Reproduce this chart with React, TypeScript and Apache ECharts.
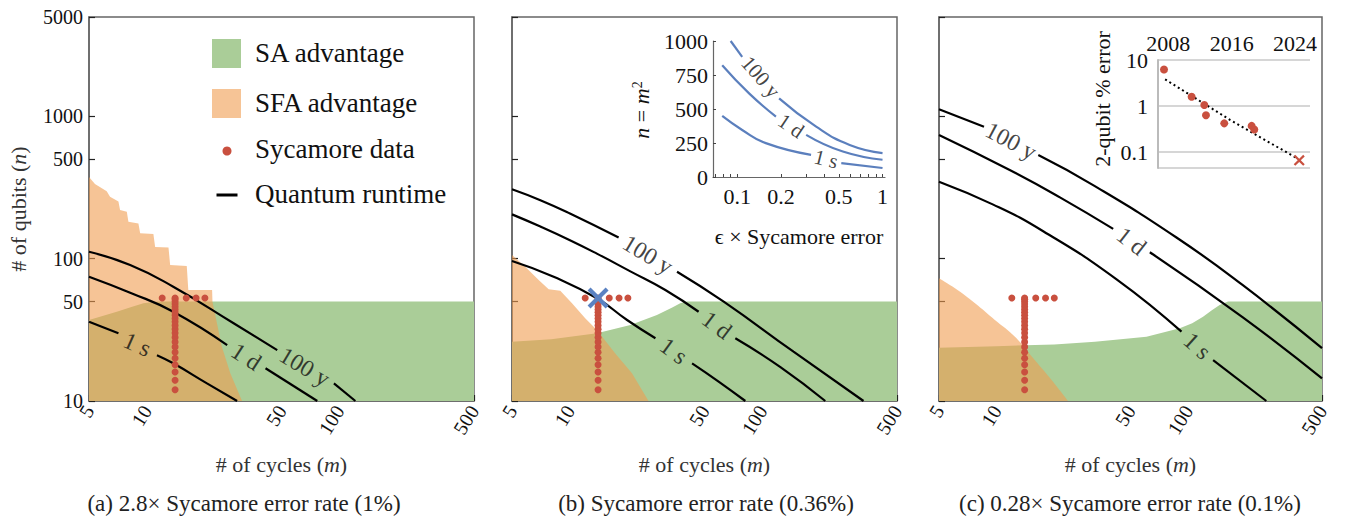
import React, { useEffect, useRef } from 'react';
import * as echarts from 'echarts';

// ---------- axis ticks ----------
const cycleTicks = [5, 10, 50, 100, 500];
const qubitTicks = [10, 50, 100, 500, 1000, 5000];
const errorFactorTicks = [0.1, 0.2, 0.5, 1];
const errorFactorMinorTicks = [0.07, 0.08, 0.09, 0.1, 0.2, 0.3, 0.4, 0.5, 0.6, 0.7, 0.8, 0.9, 1];
const yearTicks = [2008, 2016, 2024];
const percentTicks = [0.1, 1, 10];

// ---------- region boundaries [cycles, qubits] ----------
const saA = [[5, 37.1], [6.97, 42.4], [8.3, 45.8], [9.59, 48.6], [11.3, 50], [500, 50]];
const sfaA = [[5, 375], [5.37, 335], [6.18, 298], [6.43, 273], [7.11, 252], [7.25, 220], [7.86, 214], [8.01, 182],
  [9.03, 177], [9.22, 151], [10.8, 149], [11.03, 121], [12.94, 120], [13.2, 90.3], [16.1, 88.9], [16.4, 60.3],
  [21.8, 60.3], [21.9, 49.9], [23.1, 35.2], [24.5, 24.1], [27.1, 15.7], [31.2, 10]];
const saB = [[5, 26.1], [8, 27.2], [13.8, 29.9], [20.6, 34.2], [28.3, 40.2], [34, 45.5], [37.4, 48.6], [40.6, 50], [500, 50]];
const sfaB = [[5, 106], [5.86, 87.9], [6.88, 70.9], [7.75, 60.9], [8.91, 59.6], [10.25, 48.6], [12.0, 38.1],
  [13.8, 31.6], [17.2, 21.6], [21.0, 15.7], [25.6, 10]];
const saC = [[5, 23.7], [10, 24.3], [20, 25], [32.6, 26.1], [60.6, 28.3], [90.4, 32.4], [105, 35.2], [119.6, 39.1],
  [133, 43.5], [146, 47.3], [161.5, 50], [500, 50]];
const sfaC = [[5, 72.8], [6.06, 61.9], [7.71, 48.6], [9.79, 37.1], [12.46, 28.3], [15.8, 19.4], [19.4, 14.0], [23.6, 10]];

// ---------- quantum runtime contours (two pieces around each inline label) ----------
const contoursA = [
  { text: '1 s', pieces: [[[5, 36.1], [7.11, 29.9]], [[11.27, 21.0], [13.7, 18.4], [20.5, 13.3], [29.4, 10]]], at: [8.9, 25.0], angle: -24 },
  { text: '1 d', pieces: [[[5, 74.8], [8.18, 57.7], [13.7, 42.4], [26.1, 24.7]], [[41.3, 17.0], [76.7, 10]]], at: [32.8, 20.5], angle: -33 },
  { text: '100 y', pieces: [[[5, 112], [8.18, 90.3], [13.7, 63.6], [28.2, 35.2], [47.5, 22.8]], [[93.6, 13.3], [121, 10]]], at: [66, 17.4], angle: -31 },
];
const contoursB = [
  { text: '1 s', pieces: [[[5, 96.4], [8.23, 74.7], [13.8, 52.7], [19.8, 37.1], [27.8, 27.6]], [[43.1, 18.4], [59.2, 13.7], [81.5, 10]]], at: [34.6, 22.5], angle: -36 },
  { text: '1 d', pieces: [[[5, 205], [7.02, 168.4], [10, 135], [13.8, 108.6], [20.6, 81.5], [31.3, 60.3], [46.6, 42.4]], [[72.3, 27.6], [124, 17.3], [212, 10]]], at: [58.0, 34.2], angle: -37 },
  { text: '100 y', pieces: [[[5, 308], [7.02, 258], [10, 208], [17.9, 141]], [[36, 81], [62.9, 49.9], [145, 22.2], [335, 10]]], at: [25.4, 107], angle: -31 },
];
const contoursC = [
  { text: '1 s', pieces: [[[5, 348], [9.6, 240], [17.5, 156], [42.3, 71.7], [92.3, 30.7]], [[135, 19.4], [256, 10]]], at: [111.6, 24.4], angle: -42 },
  { text: '1 d', pieces: [[[5, 740], [11.7, 420], [21.4, 270], [40.6, 162]], [[63.1, 111], [193, 38.7], [500, 14.4]]], at: [50.6, 133], angle: -38 },
  { text: '100 y', pieces: [[[5, 1122], [8.59, 847]], [[16.5, 535], [31.9, 329], [86.9, 141], [193, 65.1], [500, 23.5]]], at: [11.9, 673], angle: -28 },
];

// ---------- Sycamore data ----------
const sycamoreColumnCycles = 14;
const sycamoreColumnQubits = [12, 14, 16, 18, 20, 22, 24, 26, 28, 30, 32, 34, 36, 38, 40, 42, 44, 46, 48, 50, 52, 53];
const sycamoreRowCycles = [12, 16, 18, 20];
const sycamoreRowQubits = 53;
const sycamoreExperiment = [14, 53];

// ---------- inset (b): n = m^2 vs error factor ----------
const insetContours = [
  { text: '100 y', pieces: [[[0.09, 1000], [0.108, 883]], [[0.194, 578], [0.349, 370], [0.594, 236], [1, 176]]], at: [0.145, 736], angle: -49 },
  { text: '1 d', pieces: [[[0.0787, 822], [0.1205, 615], [0.1845, 444]], [[0.298, 310], [0.533, 187], [1, 127]]], at: [0.234, 376], angle: -34 },
  { text: '1 s', pieces: [[[0.0787, 449], [0.108, 346], [0.157, 249], [0.322, 163]], [[0.52, 102], [1, 66]]], at: [0.409, 132], angle: -14 },
];

// ---------- inset (c): 2-qubit error over years ----------
const errorYears = [2007.46, 2010.95, 2012.55, 2012.76, 2015.07, 2018.53, 2018.86];
const errorPercent = [6.2, 1.59, 1.05, 0.63, 0.42, 0.37, 0.31];
const projectedError = [2024.54, 0.066];
const errorTrend = [[2007.6, 3.8], [2015.8, 0.5], [2024.2, 0.074]];

const FONT = "'Liberation Serif', 'DejaVu Serif', serif";
const GREEN = '#aacd98';
const ORANGE = '#f09d50';
const ORANGE_OPACITY = 0.6;
const RED = '#c9503f';
const BLUE = '#5b7fbd';
const FRAME = '#666';
const CROSS = 'path://M1.4,0L5,3.6L8.6,0L10,1.4L6.4,5L10,8.6L8.6,10L5,6.4L1.4,10L0,8.6L3.6,5L0,1.4Z';
const plain = (v: number) => String(v);

const mainGrids = [
  { left: 89, top: 17, width: 385, height: 384 },
  { left: 512, top: 17, width: 385, height: 384 },
  { left: 939, top: 17, width: 383, height: 384 },
];

const panels = [
  { sa: saA, sfa: sfaA, sfaSmooth: false, contours: contoursA },
  { sa: saB, sfa: sfaB, sfaSmooth: false, contours: contoursB },
  { sa: saC, sfa: sfaC, sfaSmooth: 0.4, contours: contoursC },
];

function buildOption() {
  const grid: any[] = mainGrids.map((g) => ({ ...g, show: true, borderColor: FRAME, borderWidth: 1.5 }));
  grid.push({ left: 713, top: 41, width: 172, height: 136 });
  grid.push({ left: 1158, top: 60, width: 152, height: 108 });

  const xAxis: any[] = mainGrids.map((_, i) => ({
    gridIndex: i, type: 'log', min: 5, max: 500,
    axisLine: { show: true, lineStyle: { color: FRAME, width: 1.5 } },
    axisTick: { show: true, inside: true, length: 6, customValues: cycleTicks, lineStyle: { color: '#222', width: 1.2 } },
    axisLabel: { customValues: cycleTicks, rotate: 58, margin: 6, fontFamily: FONT, fontSize: 20, color: '#111', formatter: plain },
    splitLine: { show: false },
    name: '# of cycles ({i|m})', nameLocation: 'middle', nameGap: 52,
    nameTextStyle: { fontFamily: FONT, fontSize: 22, color: '#333', rich: { i: { fontFamily: FONT, fontSize: 22, fontStyle: 'italic', color: '#333' } } },
  }));
  xAxis.push({
    gridIndex: 3, type: 'log', min: 0.068, max: 1.04,
    axisLine: { show: true, lineStyle: { color: FRAME, width: 1.2 } },
    axisTick: { show: true, inside: true, length: 3, customValues: errorFactorMinorTicks, lineStyle: { color: '#444' } },
    axisLabel: { customValues: errorFactorTicks, margin: 8, fontFamily: FONT, fontSize: 22, color: '#111', formatter: plain },
    splitLine: { show: false },
    name: 'ϵ × Sycamore error', nameLocation: 'middle', nameGap: 48,
    nameTextStyle: { fontFamily: FONT, fontSize: 22, color: '#111' },
  });
  xAxis.push({
    gridIndex: 4, type: 'value', position: 'top', min: 2006.7, max: 2025.9,
    axisLine: { show: false }, axisTick: { show: false },
    axisLabel: { customValues: yearTicks, margin: 6, fontFamily: FONT, fontSize: 22, color: '#111', formatter: plain },
    splitLine: { show: false },
  });

  const yAxis: any[] = mainGrids.map((_, i) => ({
    gridIndex: i, type: 'log', min: 10, max: 5000,
    axisLine: { show: true, lineStyle: { color: FRAME, width: 1.5 } },
    axisTick: { show: true, inside: true, length: 6, customValues: qubitTicks, lineStyle: { color: '#222', width: 1.2 } },
    axisLabel: { show: i === 0, customValues: qubitTicks, margin: 6, fontFamily: FONT, fontSize: 20, color: '#111', formatter: plain },
    splitLine: { show: false },
  }));
  yAxis.push({
    gridIndex: 3, type: 'value', min: 0, max: 1000, interval: 250,
    axisLine: { show: true, lineStyle: { color: FRAME, width: 1.2 } },
    axisTick: { show: true, inside: true, length: 3, lineStyle: { color: '#444' } },
    axisLabel: { margin: 5, fontFamily: FONT, fontSize: 22, color: '#111', formatter: plain },
    splitLine: { show: false },
  });
  yAxis.push({
    gridIndex: 4, type: 'log', min: 0.045, max: 10,
    axisLine: { show: true, lineStyle: { color: '#bbb', width: 2 } },
    axisTick: { show: false },
    axisLabel: { customValues: percentTicks, margin: 10, fontFamily: FONT, fontSize: 22, color: '#111', formatter: plain },
    splitLine: { show: true, lineStyle: { color: '#c8c8c8', width: 1.5 } },
  });

  const series: any[] = [];
  const lineSeries = (data: number[][], gi: number, color: string, width: number, z: number, extra: any = {}) => ({
    type: 'line', xAxisIndex: gi, yAxisIndex: gi, data, symbol: 'none', smooth: 0.5, silent: true,
    lineStyle: { color, width }, z, ...extra,
  });
  const labelSeries = (items: any[], gi: number, size: number, color: string) => ({
    type: 'scatter', xAxisIndex: gi, yAxisIndex: gi, symbolSize: 1, silent: true, z: 6,
    itemStyle: { color: 'rgba(0,0,0,0)' },
    data: items.map((c) => ({
      value: c.at,
      label: { show: true, position: 'inside', formatter: c.text, rotate: c.angle, fontFamily: FONT, fontSize: size, color },
    })),
  });

  panels.forEach((p, gi) => {
    series.push({
      type: 'line', xAxisIndex: gi, yAxisIndex: gi, data: p.sa, symbol: 'none', silent: true,
      lineStyle: { width: 0 }, areaStyle: { color: GREEN, opacity: 1, origin: 'start' }, z: 1,
    });
    series.push({
      type: 'line', xAxisIndex: gi, yAxisIndex: gi, data: p.sfa, symbol: 'none', silent: true, smooth: p.sfaSmooth,
      lineStyle: { width: 0 }, areaStyle: { color: ORANGE, opacity: ORANGE_OPACITY, origin: 'start' }, z: 2,
    });
    p.contours.forEach((c) => c.pieces.forEach((piece) => series.push(lineSeries(piece, gi, '#000', 2.2, 4))));
    series.push(labelSeries(p.contours, gi, 24, '#111'));
    series.push({
      type: 'scatter', xAxisIndex: gi, yAxisIndex: gi, symbolSize: 7, silent: true, z: 7,
      itemStyle: { color: RED, opacity: 1 },
      data: [
        ...sycamoreColumnQubits.map((n) => [sycamoreColumnCycles, n]),
        ...sycamoreRowCycles.map((m) => [m, sycamoreRowQubits]),
      ],
    });
  });
  series.push({
    type: 'scatter', xAxisIndex: 1, yAxisIndex: 1, symbol: CROSS, symbolSize: 21, silent: true, z: 8,
    itemStyle: { color: '#5b82c2', opacity: 1 }, data: [sycamoreExperiment],
  });

  insetContours.forEach((c) => c.pieces.forEach((piece) => series.push(lineSeries(piece, 3, BLUE, 2.2, 4))));
  series.push(labelSeries(insetContours, 3, 21, '#111'));

  series.push(lineSeries(errorTrend, 4, '#000', 2, 4, { smooth: false, lineStyle: { color: '#000', width: 2, type: [2, 3] } }));
  series.push({
    type: 'scatter', xAxisIndex: 4, yAxisIndex: 4, symbolSize: 8, silent: true, z: 7,
    itemStyle: { color: RED, opacity: 1 }, data: errorYears.map((y, i) => [y, errorPercent[i]]),
  });
  series.push({
    type: 'scatter', xAxisIndex: 4, yAxisIndex: 4, symbol: CROSS, symbolSize: 11, silent: true, z: 8,
    itemStyle: { color: RED, opacity: 1 }, data: [projectedError],
  });

  const legendFont = `27px ${FONT}`;
  const captionFont = `23px ${FONT}`;
  const graphic: any[] = [
    { type: 'rect', shape: { x: 212, y: 39, width: 29, height: 29 }, style: { fill: GREEN } },
    { type: 'text', x: 255, y: 53, style: { text: 'SA advantage', font: legendFont, fill: '#111', verticalAlign: 'middle' } },
    { type: 'rect', shape: { x: 212, y: 89, width: 29, height: 29 }, style: { fill: ORANGE, opacity: ORANGE_OPACITY } },
    { type: 'text', x: 255, y: 103, style: { text: 'SFA advantage', font: legendFont, fill: '#111', verticalAlign: 'middle' } },
    { type: 'circle', shape: { cx: 227, cy: 151, r: 4.5 }, style: { fill: RED } },
    { type: 'text', x: 255, y: 149, style: { text: 'Sycamore data', font: legendFont, fill: '#111', verticalAlign: 'middle' } },
    { type: 'line', shape: { x1: 216.5, y1: 195, x2: 237.5, y2: 195 }, style: { stroke: '#000', lineWidth: 3 } },
    { type: 'text', x: 255, y: 194, style: { text: 'Quantum runtime', font: legendFont, fill: '#111', verticalAlign: 'middle' } },
    {
      type: 'text', x: 18, y: 209, rotation: Math.PI / 2,
      style: {
        text: '# of qubits ({i|n})', font: `22px ${FONT}`, fill: '#333', align: 'center', verticalAlign: 'middle',
        rich: { i: { fontFamily: FONT, fontSize: 22, fontStyle: 'italic', fill: '#333' } },
      },
    },
    {
      type: 'text', x: 641, y: 110, rotation: Math.PI / 2,
      style: {
        text: '{i|n} = {i|m}{s|2}', font: `22px ${FONT}`, fill: '#111', align: 'center', verticalAlign: 'middle',
        rich: { i: { fontFamily: FONT, fontSize: 22, fontStyle: 'italic' }, s: { fontFamily: FONT, fontSize: 14, verticalAlign: 'top', padding: [0, 0, 8, 0] } },
      },
    },
    {
      type: 'text', x: 1102, y: 99, rotation: Math.PI / 2,
      style: { text: '2-qubit % error', font: `22px ${FONT}`, fill: '#111', align: 'center', verticalAlign: 'middle' },
    },
    { type: 'text', x: 244, y: 503, style: { text: '(a) 2.8× Sycamore error rate (1%)', font: captionFont, fill: '#222', align: 'center', verticalAlign: 'middle' } },
    { type: 'text', x: 706, y: 503, style: { text: '(b) Sycamore error rate (0.36%)', font: captionFont, fill: '#222', align: 'center', verticalAlign: 'middle' } },
    { type: 'text', x: 1130, y: 503, style: { text: '(c) 0.28× Sycamore error rate (0.1%)', font: captionFont, fill: '#222', align: 'center', verticalAlign: 'middle' } },
  ];

  return { animation: false, backgroundColor: '#fff', grid, xAxis, yAxis, series, graphic };
}

export default function App() {
  const ref = useRef<HTMLDivElement>(null);
  useEffect(() => {
    const chart = echarts.init(ref.current as HTMLDivElement, null, { renderer: 'svg' });
    chart.setOption(buildOption() as any);
    return () => chart.dispose();
  }, []);
  return <div ref={ref} style={{ position: 'fixed', left: 0, top: 0, width: 1346, height: 516, background: '#fff' }} />;
}
